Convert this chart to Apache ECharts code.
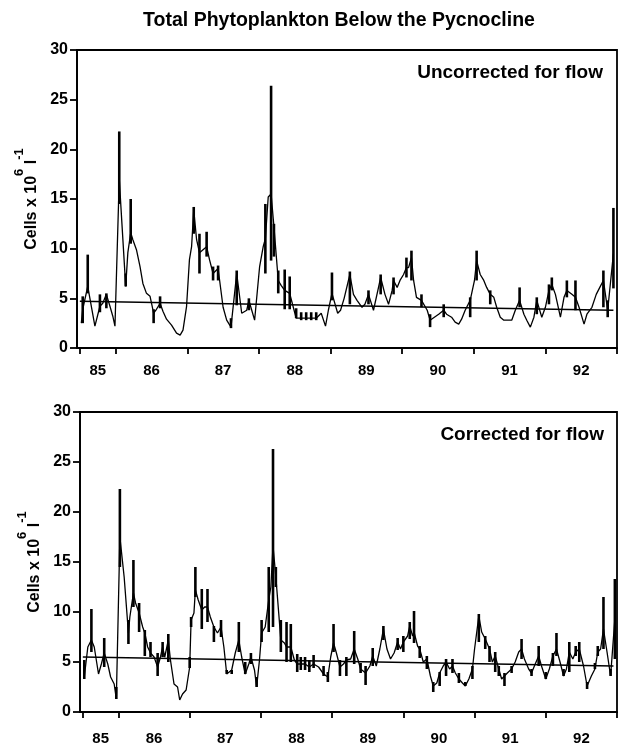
<!DOCTYPE html>
<html>
<head>
<meta charset="utf-8">
<script src="https://cdn.jsdelivr.net/npm/echarts@6/dist/echarts.min.js"></script>
<style>
  html, body { margin: 0; padding: 0; background: #fff; }
  #chart { width: 626px; height: 746px; }
</style>
</head>
<body>
<div id="chart"></div>
<script>
// ---- data (years as decimal time, cells x 10^6 per litre) ----
var yearTicks = [1985.5, 1986, 1987, 1988, 1989, 1990, 1991, 1992, 1993];
var yearLabelPos = [1985.75, 1986.5, 1987.5, 1988.5, 1989.5, 1990.5, 1991.5, 1992.5];
var trendTime = [1985.5, 1992.95];

// uncorrected for flow
var upperTime = [1985.52,1985.54,1985.61,1985.71,1985.78,1985.82,1985.87,1985.92,1985.96,1985.99,
  1986.05,1986.14,1986.17,1986.21,1986.24,1986.29,1986.34,1986.38,1986.43,1986.48,
  1986.53,1986.57,1986.62,1986.66,1986.71,1986.78,1986.85,1986.90,1986.94,1986.99,
  1987.03,1987.06,1987.09,1987.13,1987.17,1987.22,1987.27,1987.31,1987.36,1987.43,
  1987.50,1987.55,1987.61,1987.69,1987.76,1987.83,1987.86,1987.90,1987.94,1988.01,
  1988.06,1988.09,1988.13,1988.17,1988.21,1988.27,1988.31,1988.36,1988.43,1988.48,
  1988.52,1988.59,1988.66,1988.73,1988.80,1988.87,1988.93,1988.97,1989.02,1989.10,
  1989.14,1989.19,1989.27,1989.32,1989.37,1989.44,1989.48,1989.53,1989.60,1989.67,
  1989.70,1989.76,1989.81,1989.86,1989.88,1989.93,1989.97,1990.02,1990.06,1990.09,
  1990.13,1990.16,1990.20,1990.27,1990.35,1990.39,1990.45,1990.51,1990.58,1990.62,
  1990.69,1990.74,1990.79,1990.83,1990.88,1990.95,1991.01,1991.04,1991.09,1991.14,
  1991.18,1991.23,1991.28,1991.32,1991.37,1991.42,1991.46,1991.53,1991.58,1991.64,
  1991.70,1991.74,1991.79,1991.84,1991.88,1991.95,1992.00,1992.05,1992.09,1992.14,
  1992.21,1992.26,1992.30,1992.37,1992.42,1992.47,1992.54,1992.58,1992.65,1992.71,
  1992.76,1992.81,1992.87,1992.95];
var upperCells = [2.5,3.9,6.2,2.2,4.2,4.5,5.4,4.2,3.2,2.2,
  17.0,6.2,9.6,11.6,10.9,9.9,8.2,6.5,5.5,5.2,
  3.5,3.9,4.5,3.7,2.9,2.3,1.5,1.3,1.8,4.2,
  8.9,10.2,13.9,10.9,9.6,9.9,10.2,8.9,7.5,8.0,
  4.1,2.8,2.1,7.5,3.5,3.8,4.8,3.8,2.8,8.2,
  10.2,11.0,15.2,15.5,12.2,6.8,6.3,5.8,5.5,4.1,
  3.0,3.0,3.0,3.0,3.0,3.5,2.2,3.8,5.5,3.5,
  3.8,5.0,7.4,5.4,4.8,4.1,4.4,5.4,3.8,6.1,
  7.1,5.4,4.4,5.8,6.8,6.1,6.8,7.4,8.1,8.1,
  9.1,6.8,5.1,4.8,3.8,2.8,3.1,3.4,3.8,3.4,
  3.1,2.6,2.4,2.9,3.8,4.8,6.8,8.8,7.4,6.8,
  6.1,5.4,5.1,4.1,3.1,2.8,2.8,2.8,3.8,4.8,
  3.4,2.8,2.1,3.1,4.8,3.1,4.1,5.8,6.4,5.4,
  3.1,5.1,5.8,5.4,5.1,4.1,2.4,3.4,4.1,5.4,
  6.1,6.8,3.8,9.5];
var upperBarTime = [1985.54,1985.61,1985.78,1985.87,1986.05,1986.14,1986.21,1986.53,1986.62,1987.09,
  1987.17,1987.27,1987.36,1987.43,1987.61,1987.69,1987.86,1988.09,1988.17,1988.21,
  1988.27,1988.36,1988.43,1988.52,1988.59,1988.66,1988.73,1988.80,1989.02,1989.27,
  1989.53,1989.70,1989.88,1990.06,1990.13,1990.27,1990.39,1990.58,1990.95,1991.04,
  1991.23,1991.64,1991.88,1992.05,1992.09,1992.30,1992.42,1992.81,1992.87,1992.95];
var upperBarLow = [2.5,5.5,3.6,4.0,14.5,6.2,10.5,2.5,4.0,11.5,
  7.5,9.2,6.8,6.8,2.0,4.3,3.8,7.5,8.8,9.2,
  5.5,3.9,3.9,3.0,2.8,2.8,2.8,2.8,4.8,4.4,
  4.4,5.4,5.4,7.1,6.8,4.1,2.1,3.1,3.1,6.8,
  4.4,4.1,3.4,4.4,5.8,5.1,3.8,4.1,3.1,6.0];
var upperBarHigh = [5.2,9.4,5.4,5.5,21.8,7.5,15.0,3.9,5.2,14.2,
  11.5,11.7,8.2,8.3,3.0,7.8,5.0,14.5,26.4,12.5,
  7.8,7.9,7.2,4.0,3.6,3.6,3.6,3.6,7.6,7.7,
  5.8,7.4,7.1,9.1,9.8,5.4,3.4,4.4,5.1,9.8,
  5.8,6.1,5.1,6.4,7.1,6.8,6.8,7.8,4.8,14.1];
var upperTrend = [4.7, 3.8];

// corrected for flow
var lowerTime = [1985.52,1985.57,1985.62,1985.66,1985.72,1985.76,1985.80,1985.85,1985.89,1985.94,
  1985.97,1986.02,1986.08,1986.14,1986.16,1986.21,1986.24,1986.29,1986.34,1986.37,
  1986.41,1986.45,1986.50,1986.55,1986.59,1986.62,1986.65,1986.70,1986.73,1986.78,
  1986.83,1986.86,1986.90,1986.95,1987.00,1987.02,1987.06,1987.08,1987.12,1987.17,
  1987.21,1987.25,1987.29,1987.34,1987.39,1987.44,1987.48,1987.52,1987.59,1987.64,
  1987.69,1987.73,1987.78,1987.83,1987.86,1987.91,1987.94,1987.98,1988.01,1988.06,
  1988.11,1988.14,1988.17,1988.21,1988.25,1988.28,1988.33,1988.36,1988.42,1988.47,
  1988.51,1988.56,1988.62,1988.68,1988.74,1988.81,1988.88,1988.94,1988.98,1989.02,
  1989.06,1989.11,1989.16,1989.20,1989.26,1989.31,1989.36,1989.40,1989.47,1989.53,
  1989.57,1989.62,1989.67,1989.72,1989.77,1989.82,1989.87,1989.92,1989.96,1990.00,
  1990.06,1990.09,1990.13,1990.15,1990.20,1990.23,1990.28,1990.33,1990.38,1990.42,
  1990.47,1990.51,1990.56,1990.60,1990.65,1990.69,1990.73,1990.78,1990.83,1990.87,
  1990.92,1990.97,1991.00,1991.06,1991.10,1991.15,1991.21,1991.25,1991.29,1991.34,
  1991.38,1991.42,1991.46,1991.52,1991.57,1991.62,1991.66,1991.70,1991.76,1991.80,
  1991.84,1991.90,1991.94,1992.00,1992.05,1992.10,1992.15,1992.20,1992.25,1992.29,
  1992.33,1992.38,1992.42,1992.47,1992.53,1992.58,1992.64,1992.69,1992.73,1992.77,
  1992.81,1992.86,1992.91,1992.97];
var lowerCells = [3.5,6.5,7.2,6.5,3.8,4.8,5.9,4.8,3.5,2.8,
  1.3,17.5,13.5,7.9,9.5,11.9,10.9,9.9,8.5,7.9,
  6.5,5.9,5.5,4.5,5.5,6.5,5.5,7.2,5.2,2.8,
  2.5,1.2,1.8,2.2,4.5,9.2,9.9,12.2,11.2,10.2,
  10.5,10.5,9.5,8.5,7.9,8.5,6.5,3.8,4.2,5.9,
  7.2,5.5,3.8,4.8,5.5,4.2,2.5,5.2,7.9,8.5,
  11.2,12.5,16.6,13.5,9.9,7.2,6.9,6.5,6.5,5.2,
  4.8,4.8,4.8,4.5,4.8,4.5,3.8,3.5,5.5,6.9,
  5.9,4.5,4.8,5.2,5.3,6.3,5.3,4.3,3.9,4.6,
  5.6,4.6,6.3,8.3,6.3,5.3,5.9,7.0,6.3,7.0,
  7.6,8.6,7.6,8.0,6.6,6.3,5.0,5.3,3.6,2.6,
  2.9,3.9,4.6,5.0,4.3,4.6,3.9,3.3,2.9,2.6,
  3.3,4.3,6.3,9.6,8.0,7.3,6.3,5.0,5.6,4.3,
  3.3,3.6,3.9,4.3,5.0,6.0,6.3,5.3,4.3,3.9,
  4.6,5.6,4.6,3.3,4.3,5.6,6.3,5.0,3.6,4.3,
  6.0,5.3,6.0,6.3,4.6,2.6,3.6,4.3,6.0,6.3,
  8.3,6.0,3.6,9.3];
var lowerBarTime = [1985.52,1985.62,1985.80,1985.97,1986.02,1986.14,1986.21,1986.29,1986.37,1986.45,
  1986.55,1986.62,1986.70,1987.00,1987.02,1987.08,1987.17,1987.25,1987.34,1987.44,
  1987.52,1987.59,1987.69,1987.78,1987.86,1987.94,1988.01,1988.11,1988.17,1988.21,
  1988.28,1988.36,1988.42,1988.51,1988.56,1988.62,1988.68,1988.74,1988.88,1988.94,
  1989.02,1989.11,1989.20,1989.31,1989.40,1989.47,1989.57,1989.72,1989.92,1990.00,
  1990.09,1990.15,1990.23,1990.33,1990.42,1990.51,1990.60,1990.69,1990.78,1990.87,
  1990.97,1991.06,1991.15,1991.21,1991.29,1991.34,1991.42,1991.52,1991.66,1991.80,
  1991.90,1992.00,1992.10,1992.15,1992.25,1992.33,1992.42,1992.47,1992.58,1992.69,
  1992.73,1992.81,1992.91,1992.97];
var lowerBarLow = [3.3,6.0,4.5,1.3,14.5,6.8,10.5,8.0,5.6,5.5,
  3.6,5.5,5.0,4.4,8.5,11.5,8.3,9.0,7.0,7.5,
  3.8,3.8,6.0,3.8,4.8,2.5,7.0,8.0,8.5,12.5,
  6.0,5.0,5.0,4.0,4.2,4.2,4.0,4.4,3.6,3.0,
  6.0,3.6,3.6,4.8,3.9,2.7,4.6,7.2,6.2,6.0,
  7.3,6.9,5.4,4.3,2.0,2.6,3.6,3.9,2.9,2.6,
  3.3,7.0,6.3,5.0,4.0,3.6,2.6,3.9,5.3,3.6,
  4.6,3.3,4.6,5.6,3.6,4.0,5.6,5.0,2.3,4.3,
  5.6,6.3,3.6,5.3];
var lowerBarHigh = [5.2,10.3,7.4,2.5,22.3,9.2,15.2,10.9,8.2,7.0,
  5.9,7.0,7.8,5.5,9.5,14.5,12.3,12.3,8.6,9.2,
  4.2,4.2,9.0,5.0,5.9,3.5,9.2,14.5,26.3,14.5,
  9.2,9.0,8.8,5.8,5.5,5.5,5.2,5.7,4.6,4.0,
  8.8,5.2,5.5,8.1,4.9,4.6,6.4,8.6,7.4,7.6,
  9.0,10.1,6.6,5.6,3.0,4.0,5.3,5.3,3.9,3.0,
  4.6,9.8,7.6,6.6,6.0,4.6,3.9,4.6,7.3,4.3,
  6.6,4.0,5.9,7.9,4.3,7.0,6.6,7.0,3.0,4.9,
  6.6,11.5,4.3,13.3];
var lowerTrend = [5.5, 4.6];

var FONT = '"Liberation Sans", Arial, Helvetica, sans-serif';

function zip(a, b) {
    var out = [];
    for (var i = 0; i < a.length; i++) {
        out.push([a[i], b[i]]);
    }
    return out;
}

function barRows(t, lo, hi) {
    var out = [];
    for (var i = 0; i < t.length; i++) {
        out.push([t[i], lo[i], hi[i]]);
    }
    return out;
}

function renderBar(params, api) {
    var p1 = api.coord([api.value(0), api.value(1)]);
    var p2 = api.coord([api.value(0), api.value(2)]);
    return {
        type: 'line',
        shape: { x1: p1[0], y1: p1[1], x2: p2[0], y2: p2[1] },
        style: { stroke: '#000', lineWidth: 2.6 }
    };
}

function makeXAxis(idx, labelMargin) {
    return {
        type: 'value',
        gridIndex: idx,
        min: 1985.46,
        max: 1993,
        axisLine: { show: true, lineStyle: { color: '#000', width: 1.8 } },
        axisTick: {
            show: true, inside: false, length: 6,
            customValues: yearTicks,
            lineStyle: { color: '#000', width: 1.8 }
        },
        axisLabel: {
            customValues: yearLabelPos,
            margin: labelMargin,
            color: '#000',
            fontFamily: FONT,
            fontWeight: 'bold',
            fontSize: 15,
            formatter: function (v) { return String(Math.floor(v) % 100); }
        },
        splitLine: { show: false }
    };
}

function makeYAxis(idx) {
    return {
        type: 'value',
        gridIndex: idx,
        min: 0,
        max: 30,
        interval: 5,
        name: '{a|Cells x 10}{s|6}{a| l}{s|-1}',
        nameLocation: 'middle',
        nameRotate: 90,
        nameGap: 37,
        nameTextStyle: {
            rich: {
                a: { fontFamily: FONT, fontWeight: 'bold', fontSize: 16, color: '#000', lineHeight: 26, verticalAlign: 'bottom' },
                s: { fontFamily: FONT, fontWeight: 'bold', fontSize: 13, color: '#000', lineHeight: 26, verticalAlign: 'top' }
            }
        },
        axisLine: { show: true, lineStyle: { color: '#000', width: 1.8 } },
        axisTick: { show: true, inside: false, length: 7, lineStyle: { color: '#000', width: 1.8 } },
        axisLabel: {
            margin: 9,
            color: '#000',
            fontFamily: FONT,
            fontWeight: 'bold',
            fontSize: 16
        },
        splitLine: { show: false }
    };
}

function panelSeries(idx, t, v, bt, blo, bhi, trend) {
    return [
        {
            type: 'line',
            xAxisIndex: idx, yAxisIndex: idx,
            data: zip(t, v),
            symbol: 'none',
            smooth: false,
            lineStyle: { color: '#000', width: 1.3 },
            silent: true
        },
        {
            type: 'custom',
            xAxisIndex: idx, yAxisIndex: idx,
            data: barRows(bt, blo, bhi),
            renderItem: renderBar,
            silent: true
        },
        {
            type: 'line',
            xAxisIndex: idx, yAxisIndex: idx,
            data: zip(trendTime, trend),
            symbol: 'none',
            lineStyle: { color: '#000', width: 1.4 },
            silent: true
        }
    ];
}

var chart = echarts.init(document.getElementById('chart'), null, { renderer: 'canvas' });

var option = {
    backgroundColor: '#fff',
    animation: false,
    title: [
        {
            text: 'Total Phytoplankton Below the Pycnocline',
            left: 334, top: 6, textAlign: 'center',
            textStyle: { fontFamily: FONT, fontWeight: 'bold', fontSize: 19.5, color: '#000' }
        },
        {
            text: 'Uncorrected for flow',
            right: 18, top: 58,
            textStyle: { fontFamily: FONT, fontWeight: 'bold', fontSize: 19, color: '#000' }
        },
        {
            text: 'Corrected for flow',
            right: 17, top: 420,
            textStyle: { fontFamily: FONT, fontWeight: 'bold', fontSize: 19, color: '#000' }
        }
    ],
    grid: [
        { left: 77, width: 540, top: 50, height: 298, show: true, borderColor: '#000', borderWidth: 1.8, backgroundColor: 'transparent' },
        { left: 80, width: 537, top: 412, height: 301, show: true, borderColor: '#000', borderWidth: 1.8, backgroundColor: 'transparent' }
    ],
    xAxis: [makeXAxis(0, 15), makeXAxis(1, 19)],
    yAxis: [makeYAxis(0), makeYAxis(1)],
    series: panelSeries(0, upperTime, upperCells, upperBarTime, upperBarLow, upperBarHigh, upperTrend)
        .concat(panelSeries(1, lowerTime, lowerCells, lowerBarTime, lowerBarLow, lowerBarHigh, lowerTrend))
};

chart.setOption(option);
</script>
</body>
</html>
